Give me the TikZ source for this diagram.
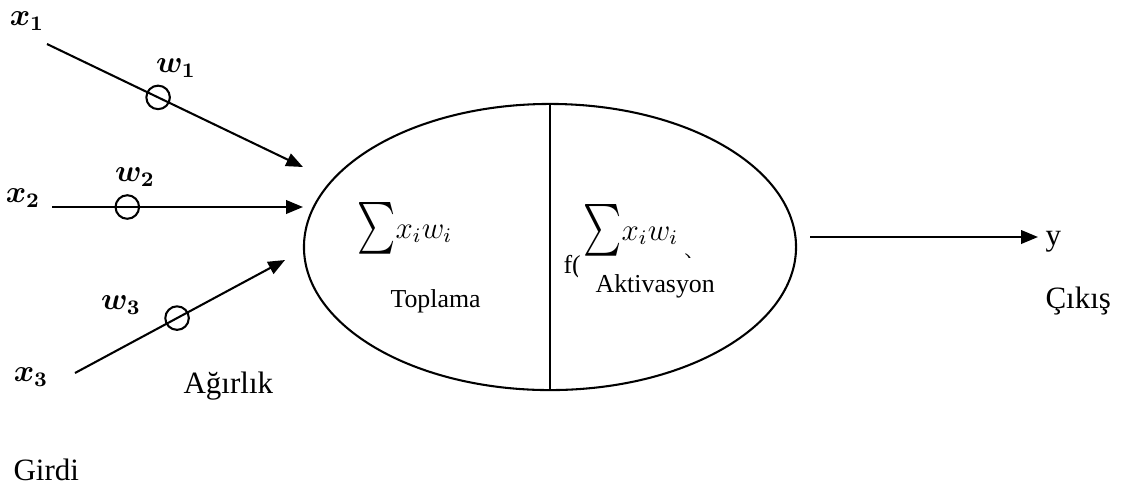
\documentclass[tikz,border=0pt]{standalone}
\usepackage{amsmath,amssymb}
\usepackage{fontspec}
\setmainfont{Liberation Serif}
\usetikzlibrary{arrows.meta,positioning,shapes.geometric}
\tikzset{
  arrow/.style={-{Triangle[length=6.5pt,width=5.2pt]}, line width=0.8pt, draw=black},
  weight/.style={circle, draw=black, line width=0.8pt, minimum size=0.32cm, inner sep=0pt},
  sym/.style={font=\fontsize{12}{14}\selectfont\boldmath, inner sep=0pt},
  sumlbl/.style={font=\fontsize{12}{14}\selectfont, inner sep=0pt, anchor=base west},
  caption/.style={font=\rmfamily\fontsize{12}{14}\selectfont, inner sep=0pt, anchor=base west},
  inlabel/.style={font=\rmfamily\fontsize{10}{12}\selectfont, inner sep=0pt, anchor=base west},
  neuron/.style={ellipse, draw=black, line width=0.8pt, minimum width=6.69cm,
                 minimum height=3.89cm, inner sep=0pt}
}
\newcommand{\bigsum}{\raisebox{-1.5pt}{\scalebox{0.7}[1]{\fontsize{20}{20}\selectfont$\sum$}}}

\begin{document}
\begin{tikzpicture}[x=0.0136cm,y=-0.0136cm]
  \useasboundingbox (0,0) rectangle (1141,488);
  % neuron body
  \node[neuron] (body) at (550,247) {};
  \draw[line width=0.4pt] (body.north) -- (body.south);
  % inputs
  \node[sym] (x1) at (27,21) {$x_1$};
  \node[sym] (x2) at (23,198) {$x_2$};
  \node[sym] (x3) at (31,377) {$x_3$};
  \node[sym] (w1) at (176,68) {$w_1$};
  \node[sym] (w2) at (135,177) {$w_2$};
  \node[sym] (w3) at (121,305) {$w_3$};
  \coordinate (in1) at (47,44);  \coordinate (tip1) at (303,167);
  \coordinate (in2) at (52,207); \coordinate (tip2) at (303,207);
  \coordinate (in3) at (75,373); \coordinate (tip3) at (285,260);
  \draw[arrow] (in1) -- node[weight,pos=0.434] (c1) {} (tip1);
  \draw[arrow] (in2) -- node[weight,pos=0.30] (c2) {} (tip2);
  \draw[arrow] (in3) -- node[weight,pos=0.486] (c3) {} (tip3);
  % inside
  \node[sumlbl] (sumA) at (357,238) {\bigsum$x_i w_i$};
  \node[inlabel] (topl) at (390,307) {Toplama};
  \node[inlabel] (fopen) at (563,273) {f(};
  \node[inlabel] (fclose) at (684,271) {)};
  \node[inlabel,fill=white,text height=13.2pt,inner xsep=7pt,inner ysep=0pt] (aktiv) at (577,292) {Aktivasyon};
  \node[sumlbl] (sumB) at (583,240) {\bigsum$x_i w_i$};
  % output
  \coordinate (out0) at (810,237); \coordinate (out1) at (1038,237);
  \draw[arrow] (out0) -- (out1);
  \node[caption] (yout) at (1045,245) {y};
  \node[caption] (cikis) at (1045,308) {Çıkış};
  \node[caption] (agirlik) at (183,393) {Ağırlık};
  \node[caption] (girdi) at (13,480) {Girdi};
\end{tikzpicture}
\end{document}
